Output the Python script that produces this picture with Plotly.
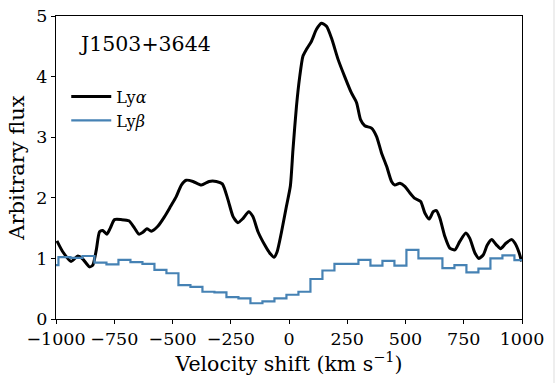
import plotly.graph_objects as go

# Ly-alpha profile (velocity in km/s, flux)
v_lya = [-996, -971, -935, -906, -885, -856, -842, -827, -813, -799, -782, -767,
         -749, -720, -687, -663, -644, -627, -610, -591, -563, -534, -508, -484,
         -462, -441, -412, -376, -343, -312, -286, -262, -240, -219, -197, -173,
         -155, -133, -104, -83, -64, -51, -33, -11, 6, 17, 32, 46, 60, 75, 96,
         118, 139, 161, 182, 211, 239, 268, 290, 307, 325, 354, 376, 397, 419,
         440, 454, 476, 497, 519, 540, 565, 583, 602, 619, 633, 648, 669, 690,
         712, 733, 759, 776, 798, 815, 834, 851, 870, 891, 908, 931, 956, 970,
         988, 998]
f_lya = [1.29, 1.11, 0.95, 1.04, 0.99, 0.86, 0.89, 1.14, 1.44, 1.46, 1.40, 1.50,
         1.64, 1.64, 1.62, 1.50, 1.40, 1.43, 1.49, 1.45, 1.53, 1.69, 1.86, 2.02,
         2.21, 2.29, 2.27, 2.21, 2.27, 2.27, 2.23, 1.97, 1.69, 1.59, 1.66, 1.77,
         1.69, 1.44, 1.22, 1.09, 1.02, 1.11, 1.42, 1.86, 2.20, 2.79, 3.51, 4.00,
         4.34, 4.45, 4.58, 4.78, 4.88, 4.83, 4.64, 4.28, 4.00, 3.73, 3.57, 3.29,
         3.19, 3.15, 3.01, 2.74, 2.52, 2.27, 2.21, 2.24, 2.19, 2.08, 1.99, 1.94,
         1.75, 1.65, 1.77, 1.79, 1.66, 1.36, 1.17, 1.14, 1.28, 1.42, 1.33, 1.09,
         1.00, 1.06, 1.22, 1.31, 1.22, 1.16, 1.25, 1.31, 1.25, 1.09, 0.95]

# Ly-beta binned spectrum (bin centres, flux)
v_lyb = [-1015, -964, -912, -861, -809, -758, -706, -655, -603, -552,
         -500, -449, -397, -346, -294, -243, -191, -140, -88, -37,
         15, 66, 118, 169, 221, 272, 324, 375, 427, 478,
         530, 581, 633, 684, 736, 787, 839, 890, 942, 993, 1045]
f_lyb = [0.89, 1.02, 1.01, 1.04, 0.93, 0.90, 0.975, 0.94, 0.91, 0.81,
         0.755, 0.56, 0.53, 0.45, 0.44, 0.36, 0.34, 0.26, 0.29, 0.34,
         0.40, 0.45, 0.66, 0.80, 0.91, 0.91, 0.975, 0.88, 0.96, 0.88,
         1.14, 1.00, 1.00, 0.84, 0.89, 0.77, 0.83, 1.00, 1.05, 0.97, 0.97]

x_ticks = [-1000, -750, -500, -250, 0, 250, 500, 750, 1000]
y_ticks = [0, 1, 2, 3, 4, 5]

serif = "DejaVu Serif"

fig = go.Figure()
fig.add_trace(go.Scatter(x=v_lya, y=f_lya, mode='lines', name='Ly<i>α</i>',
                         line=dict(color='black', width=3, shape='spline', smoothing=0.6)))
fig.add_trace(go.Scatter(x=v_lyb, y=f_lyb, mode='lines', name='Ly<i>β</i>',
                         line=dict(color='#4682b4', width=2.2, shape='hvh')))

fig.add_annotation(text='J1503+3644', x=0.046, y=0.908, xref='paper', yref='paper',
                   xanchor='left', yanchor='middle', showarrow=False,
                   font=dict(family=serif, size=20.5, color='black'))

# thin grey border at the right edge of the picture
fig.add_shape(type='line', xref='paper', yref='paper', x0=1.0687, x1=1.0687,
              y0=-0.3, y1=1.1, line=dict(color='#dddddd', width=1))

fig.update_xaxes(range=[-1000, 1000], tickvals=x_ticks,
                 ticktext=[str(t).replace('-', '\u2212') for t in x_ticks],
                 showline=True, linewidth=1, linecolor='black', mirror=True,
                 ticks='outside', ticklen=4, tickcolor='black', showgrid=False, zeroline=False,
                 tickfont=dict(family=serif, size=17.5, color='black'), automargin=False,
                 title=dict(text='Velocity shift (km s<sup>\u22121</sup>)',
                            font=dict(family=serif, size=20.5, color='black'), standoff=2))
fig.update_yaxes(range=[0, 5], tickvals=y_ticks,
                 showline=True, linewidth=1, linecolor='black', mirror=True,
                 ticks='outside', ticklen=4, tickcolor='black', showgrid=False, zeroline=False,
                 tickfont=dict(family=serif, size=17.5, color='black'), automargin=False,
                 title=dict(text='Arbitrary flux',
                            font=dict(family=serif, size=21, color='black'), standoff=6))

fig.update_layout(width=555, height=383, plot_bgcolor='white', paper_bgcolor='white',
                  margin=dict(l=56, r=33, t=16, b=64, autoexpand=False),
                  showlegend=True,
                  legend=dict(x=0.022, y=0.79, xanchor='left', yanchor='top', itemwidth=40,
                              bgcolor='rgba(0,0,0,0)', tracegroupgap=0,
                              font=dict(family=serif, size=16, color='black')))

# drop the browser's default page margin so the figure sits at the window's corner
fig.write_html("out.html", config={'displayModeBar': False},
               post_script="document.body.style.margin='0';")
